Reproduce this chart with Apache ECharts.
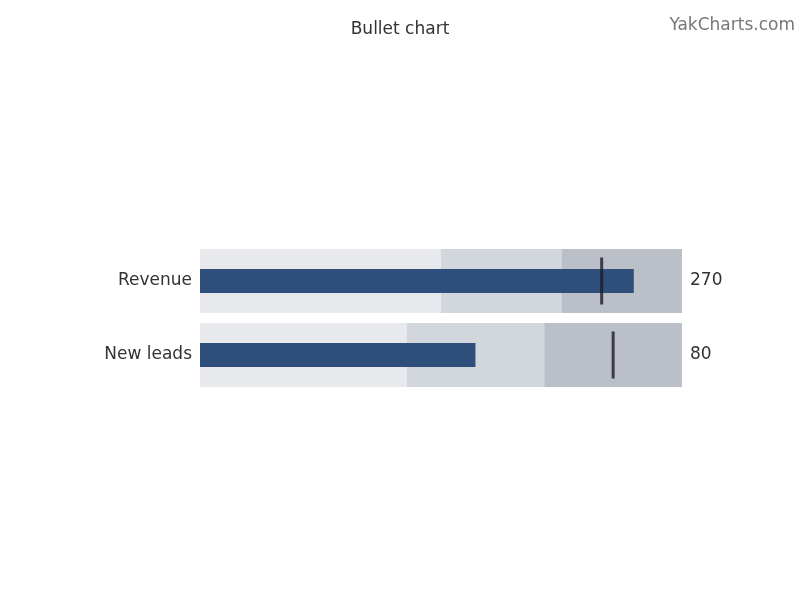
<!DOCTYPE html>
<html>
<head>
<meta charset="utf-8">
<script src="https://cdn.jsdelivr.net/npm/echarts@6/dist/echarts.min.js"></script>
<style>
  html, body { margin: 0; padding: 0; background: #fff; }
  #chart { width: 800px; height: 600px; }
</style>
</head>
<body>
<div id="chart"></div>
<script>
// one entry per row
const names = ['Revenue', 'New leads'];
const values = [270, 80];
const targets = [250, 120];
// band upper limits (poor / ok / good)
const ranges = [
  [150, 225, 300],
  [60, 100, 140]
];

const bandColors = ['#e8e9ec', '#d2d6dd', '#bbbfc7'];
const fontFamily = 'DejaVu Sans';

const chart = echarts.init(document.getElementById('chart'));

const grids = [];
const xAxes = [];
const yAxes = [];
const series = [];

names.forEach((name, i) => {
  grids.push({ left: 200, width: 482, top: 249 + i * 74, height: 64 });
  xAxes.push({
    gridIndex: i, type: 'value', min: 0, max: ranges[i][2],
    show: false
  });
  yAxes.push({
    gridIndex: i, type: 'category', data: [name],
    axisLine: { show: false }, axisTick: { show: false },
    axisLabel: { color: '#333', fontSize: 17, fontFamily: fontFamily, margin: 8, padding: [2, 0, 0, 0] }
  });
  yAxes.push({
    gridIndex: i, type: 'category', position: 'right', data: [String(values[i])],
    axisLine: { show: false }, axisTick: { show: false },
    axisLabel: { color: '#333', fontSize: 17, fontFamily: fontFamily, margin: 8, padding: [2, 0, 0, 0] }
  });
  const yIdx = i * 2;
  // bands, stacked from limits, on the left axis
  ranges[i].forEach((lim, k) => {
    const prev = k === 0 ? 0 : ranges[i][k - 1];
    series.push({
      type: 'bar', xAxisIndex: i, yAxisIndex: yIdx, stack: 'band' + i,
      data: [lim - prev], barWidth: '100%',
      itemStyle: { color: bandColors[k] }, silent: true, animation: false
    });
  });
  // value bar on the right axis so it is laid out on its own
  series.push({
    type: 'bar', xAxisIndex: i, yAxisIndex: yIdx + 1,
    data: [values[i]], barWidth: '37.5%', z: 3,
    itemStyle: { color: '#2e4f7c' }, animation: false
  });
  series.push({
    type: 'scatter', xAxisIndex: i, yAxisIndex: yIdx,
    data: [[targets[i], name]], symbol: 'rect', symbolSize: [3, 47], z: 4,
    itemStyle: { color: '#1a1d23' }, animation: false
  });
});

chart.setOption({
  backgroundColor: '#fff',
  title: [
    {
      text: 'Bullet chart', left: 'center', top: 16,
      textStyle: { color: '#333', fontSize: 17, fontWeight: 'normal', fontFamily: fontFamily }
    },
    {
      text: 'YakCharts.com', right: 0, top: 12,
      textStyle: { color: '#777', fontSize: 17, fontWeight: 'normal', fontFamily: fontFamily }
    }
  ],
  grid: grids,
  xAxis: xAxes,
  yAxis: yAxes,
  series: series
});
</script>
</body>
</html>
